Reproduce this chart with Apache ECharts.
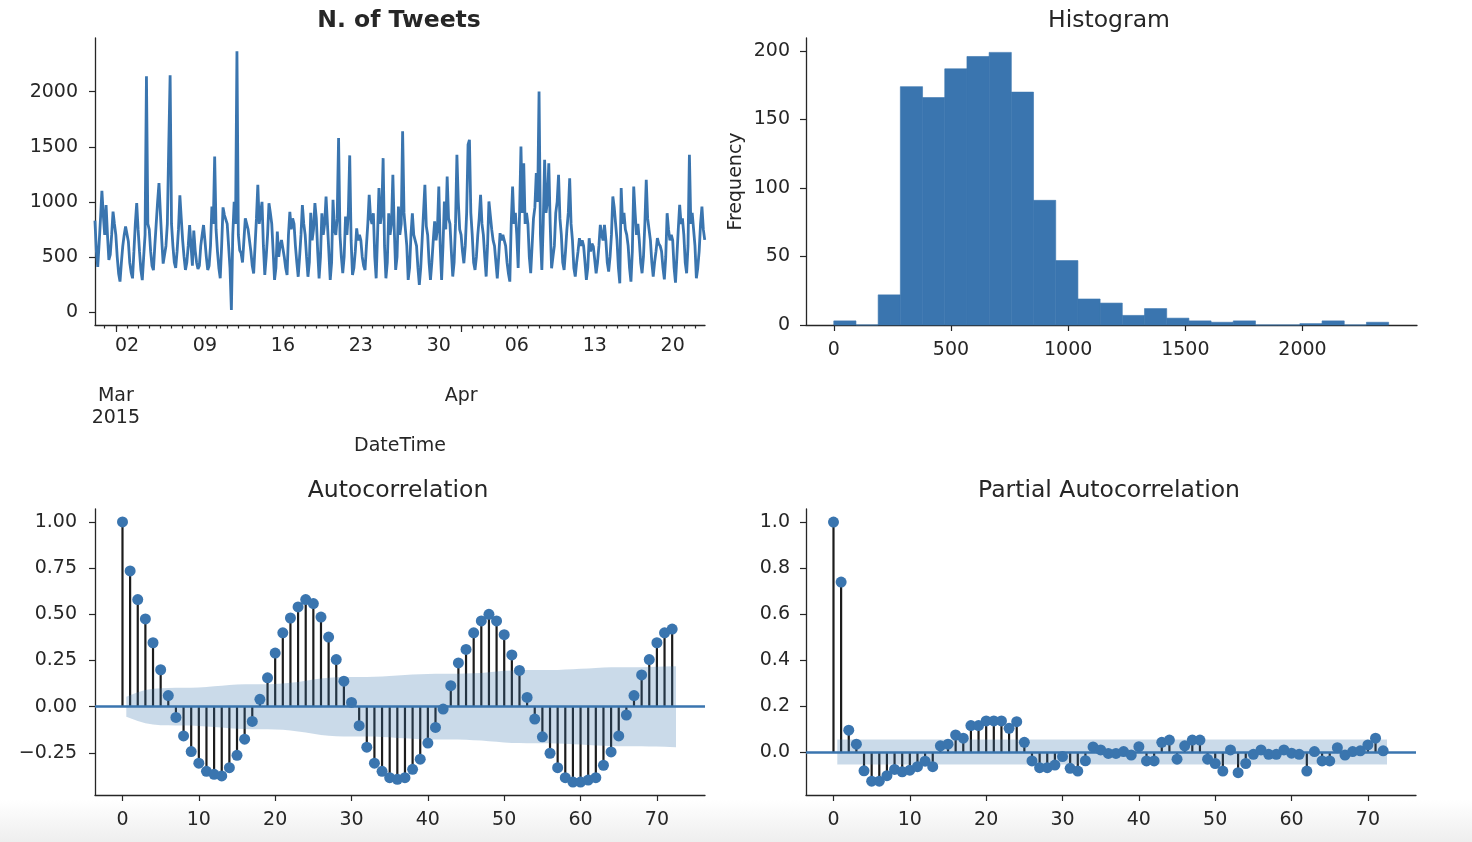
<!DOCTYPE html>
<html>
<head>
<meta charset="UTF-8">
<title>N. of Tweets - diagnostics</title>
<style>
  html, body { margin: 0; padding: 0; background: #fff; }
  #chart { width: 1472px; height: 842px; }
</style>
</head>
<body>
<div id="chart"></div>
<script src="https://cdn.jsdelivr.net/npm/echarts@6/dist/echarts.min.js"></script>
<script>
// tweets per hour, read every 3 hours; first value is 27 Feb 2015 03:00
var tsStart = -2.875;      // in days, relative to 2 Mar 2015 00:00
var tsStepDays = 0.125;    // 3 hours
var tweets = [
  830, 560, 410, 620, 850, 1100, 880,
  700, 970, 700, 473, 520, 700, 912, 800,
  700, 500, 350, 276, 450, 600, 700, 776,
  780, 640, 450, 360, 306, 550, 800, 990,
  750, 550, 380, 290, 500, 700, 2140, 800,
  750, 550, 420, 380, 600, 800, 1000, 1170,
  900, 650, 440, 450, 600, 800, 1500, 2150,
  800, 600, 450, 400, 550, 750, 1060, 850,
  650, 500, 382, 450, 600, 790, 600, 420,
  740, 560, 450, 390, 420, 600, 700, 790,
  650, 500, 382, 420, 600, 957, 800, 1412,
  750, 550, 400, 306, 600, 950, 880, 870,
  800, 600, 400, 19, 700, 1000, 800, 2367,
  700, 560, 534, 450, 650, 850, 800, 750,
  750, 550, 420, 350, 600, 850, 1155, 800,
  900, 1000, 600, 336, 500, 700, 988, 900,
  800, 550, 291, 400, 730, 500, 600, 654,
  654, 500, 400, 337, 700, 910, 750, 850,
  800, 600, 450, 320, 500, 700, 970, 800,
  700, 500, 320, 450, 900, 650, 750, 988,
  850, 550, 306, 500, 897, 700, 800, 1049,
  800, 550, 291, 450, 1019, 750, 700, 850,
  1579, 700, 500, 352, 500, 867, 700, 900,
  1422, 650, 337, 400, 550, 760, 650, 700,
  650, 500, 420, 382, 600, 800, 1064, 850,
  800, 897, 500, 306, 700, 1125, 800, 900,
  1397, 600, 306, 450, 897, 700, 800, 1246,
  750, 382, 500, 958, 700, 800, 1640, 900,
  900, 600, 291, 400, 700, 897, 700, 650,
  600, 400, 246, 400, 650, 900, 1155, 780,
  700, 450, 291, 450, 650, 822, 650, 750,
  1140, 600, 291, 600, 1004, 750, 1231, 850,
  800, 550, 322, 450, 800, 1428, 1000, 750,
  700, 550, 443, 600, 900, 1519, 1564, 900,
  700, 450, 382, 500, 700, 850, 1064, 800,
  700, 500, 322, 600, 1004, 1004, 750, 650,
  600, 450, 306, 500, 716, 650, 700, 650,
  600, 450, 350, 276, 800, 1140, 800, 900,
  700, 400, 900, 1503, 900, 1350, 800, 900,
  800, 500, 352, 600, 850, 950, 1261, 1000,
  2003, 700, 382, 800, 1382, 900, 1000, 1350,
  800, 397, 500, 600, 900, 1000, 1246, 850,
  700, 450, 382, 550, 750, 900, 1215, 800,
  650, 400, 322, 450, 550, 670, 600, 650,
  600, 450, 291, 400, 670, 550, 620, 594,
  594, 352, 450, 600, 791, 700, 650, 791,
  650, 450, 367, 500, 700, 1049, 950, 800,
  650, 400, 261, 1125, 800, 900, 750, 700,
  600, 400, 276, 550, 1140, 900, 700, 800,
  650, 450, 352, 500, 800, 1200, 850, 750,
  650, 450, 322, 450, 550, 670, 620, 600,
  550, 400, 297, 500, 897, 750, 650, 700,
  650, 400, 267, 500, 750, 973, 800, 850,
  700, 450, 352, 600, 1428, 800, 900, 750,
  600, 306, 400, 550, 800, 958, 750, 655
];
var tsDayTicks = [-2, -1, 0, 1, 2, 3, 4, 5, 6, 7, 8, 9, 10, 11, 12, 13, 14, 15, 16, 17, 18, 19, 20,
  21, 22, 23, 24, 25, 26, 27, 28, 29, 30, 31, 32, 33, 34, 35, 36, 37, 38, 39, 40, 41, 42, 43,
  44, 45, 46, 47, 48, 49, 50, 51];
var tsWeekTicks = [0, 7, 14, 21, 28, 35, 42, 49];
var tsMonthTicks = [-1, 30];
var tsMonthLabels = ['Mar\n2015', 'Apr'];
var tsYTicks = [0, 500, 1000, 1500, 2000];

// histogram: 25 bins
var histStart = 0;
var histBinWidth = 94.7;
var histCounts = [3, 0, 22, 174, 166, 187, 196, 199, 170, 91, 47, 19, 16, 7, 12, 5, 3, 2, 3, 0, 0, 1, 3, 0, 2];
var histXTicks = [0, 500, 1000, 1500, 2000];
var histYTicks = [0, 50, 100, 150, 200];

// acf / pacf, index = lag (0..72)
var acfValues = [
  1.0, 0.735, 0.58, 0.475, 0.346, 0.20, 0.06, -0.058, -0.158, -0.243,
  -0.306, -0.35, -0.366, -0.375, -0.33, -0.263, -0.176, -0.08, 0.04, 0.156,
  0.29, 0.40, 0.48, 0.54, 0.58, 0.558, 0.485, 0.377, 0.255, 0.138,
  0.023, -0.103, -0.219, -0.306, -0.35, -0.384, -0.393, -0.384, -0.339, -0.284,
  -0.197, -0.112, -0.013, 0.114, 0.237, 0.31, 0.40, 0.464, 0.50, 0.464,
  0.39, 0.28, 0.196, 0.05, -0.067, -0.163, -0.252, -0.33, -0.384, -0.408,
  -0.408, -0.397, -0.384, -0.317, -0.245, -0.158, -0.045, 0.06, 0.172, 0.255,
  0.346, 0.40, 0.42
];
// half width of the confidence band, lags 1..72
var acfConf = [
  0.054, 0.078, 0.090, 0.097, 0.100, 0.101, 0.102, 0.102, 0.102, 0.104,
  0.107, 0.110, 0.113, 0.117, 0.120, 0.121, 0.122, 0.122, 0.122, 0.123,
  0.125, 0.129, 0.134, 0.140, 0.147, 0.153, 0.157, 0.160, 0.161, 0.161,
  0.161, 0.161, 0.162, 0.164, 0.166, 0.169, 0.171, 0.174, 0.176, 0.177,
  0.178, 0.178, 0.178, 0.178, 0.179, 0.181, 0.183, 0.187, 0.190, 0.194,
  0.196, 0.197, 0.198, 0.198, 0.198, 0.198, 0.199, 0.201, 0.203, 0.205,
  0.207, 0.210, 0.212, 0.213, 0.214, 0.214, 0.214, 0.214, 0.215, 0.216,
  0.217, 0.219
];
var pacfValues = [
  1.0, 0.739, 0.095, 0.034, -0.082, -0.127, -0.127, -0.103, -0.076, -0.086,
  -0.079, -0.064, -0.04, -0.064, 0.027, 0.034, 0.074, 0.06, 0.115, 0.115,
  0.135, 0.135, 0.135, 0.103, 0.132, 0.042, -0.039, -0.068, -0.068, -0.057,
  -0.02, -0.071, -0.083, -0.038, 0.022, 0.009, -0.006, -0.006, 0.002, -0.013,
  0.023, -0.039, -0.039, 0.042, 0.052, -0.031, 0.027, 0.052, 0.052, -0.031,
  -0.05, -0.083, 0.009, -0.09, -0.05, -0.01, 0.009, -0.01, -0.01, 0.009,
  -0.005, -0.01, -0.083, 0.002, -0.039, -0.039, 0.019, -0.013, 0.002, 0.005,
  0.031, 0.06, 0.005
];
var pacfConfLevel = 0.054;
var lagTicks = [0, 10, 20, 30, 40, 50, 60, 70];
var acfYTicks = [-0.25, 0, 0.25, 0.5, 0.75, 1];
var pacfYTicks = [0, 0.2, 0.4, 0.6, 0.8, 1.0];

var BLUE = '#3a75af';
var INK = '#262626';
var FONT = 'DejaVu Sans';
var TICK_FS = 19;

var chart = echarts.init(document.getElementById('chart'));

function dayLabel(v) {
  var d = new Date(2015, 2, 2 + Math.round(v));
  var n = d.getDate();
  return (n < 10 ? '0' : '') + n;
}
function signed(v, digits) {
  return (v < 0 ? '\u2212' : '') + Math.abs(v).toFixed(digits);
}

function baseAxis(gridIndex, min, max, ticks, fmt, margin) {
  return {
    type: 'value', gridIndex: gridIndex, min: min, max: max,
    splitLine: { show: false },
    axisLine: { show: true, onZero: false, lineStyle: { color: INK, width: 1.3 } },
    axisTick: { show: true, customValues: ticks, length: 6, lineStyle: { color: INK, width: 1.2 } },
    axisLabel: {
      customValues: ticks, formatter: fmt, margin: margin,
      color: INK, fontFamily: FONT, fontSize: TICK_FS
    }
  };
}

// confidence band drawn as one polygon through the band points
function bandSeries(xi, yi, xs, halfWidths) {
  return {
    type: 'custom', xAxisIndex: xi, yAxisIndex: yi, silent: true, z: 8,
    data: xs.map(function (x, i) { return [x, halfWidths[i]]; }),
    encode: { x: 0, y: 1 },
    renderItem: function (params, api) {
      if (params.dataIndex !== 0) return null;
      var upper = [], lower = [];
      for (var i = 0; i < xs.length; i++) {
        upper.push(api.coord([xs[i], halfWidths[i]]));
        lower.unshift(api.coord([xs[i], -halfWidths[i]]));
      }
      return { type: 'polygon', shape: { points: upper.concat(lower) },
               style: { fill: 'rgba(58,117,175,0.27)' } };
    }
  };
}

function stemSeries(xi, yi, values) {
  return {
    type: 'custom', xAxisIndex: xi, yAxisIndex: yi,
    data: values.map(function (v, i) { return [i, v]; }),
    encode: { x: 0, y: 1 }, z: 2,
    renderItem: function (params, api) {
      var top = api.coord([api.value(0), api.value(1)]);
      var base = api.coord([api.value(0), 0]);
      return { type: 'line', shape: { x1: base[0], y1: base[1], x2: top[0], y2: top[1] },
               style: { stroke: '#1c1c1c', lineWidth: 2.2 } };
    },
    markLine: {
      silent: true, symbol: 'none', animation: false,
      label: { show: false },
      lineStyle: { type: 'solid', color: BLUE, width: 2.5 },
      data: [{ yAxis: 0 }]
    }
  };
}

function markerSeries(xi, yi, values) {
  return {
    type: 'scatter', xAxisIndex: xi, yAxisIndex: yi,
    data: values.map(function (v, i) { return [i, v]; }),
    symbolSize: 11, itemStyle: { color: BLUE, opacity: 1 }, z: 6
  };
}

var tsData = tweets.map(function (v, i) { return [tsStart + i * tsStepDays, v]; });
var histData = histCounts.map(function (c, i) {
  return [histStart + i * histBinWidth, histStart + (i + 1) * histBinWidth, c];
});
var acfBandX = acfConf.map(function (c, i) { return i + 1; });
acfBandX[0] -= 0.5;
acfBandX[acfBandX.length - 1] += 0.5;
var pacfBand = acfBandX.map(function () { return pacfConfLevel; });

// x axes
var tsDays = baseAxis(0, -2.87, 51.9, tsDayTicks, dayLabel, 12);
tsDays.position = 'bottom';
tsDays.axisTick.length = 3.5;
tsDays.axisLabel.customValues = tsWeekTicks;
tsDays.name = 'DateTime';
tsDays.nameLocation = 'middle';
tsDays.nameGap = 112;
tsDays.nameTextStyle = { color: INK, fontFamily: FONT, fontSize: TICK_FS };

var tsMonths = baseAxis(0, -2.87, 51.9, tsMonthTicks, function (v) {
  return tsMonthLabels[tsMonthTicks.indexOf(Math.round(v))] || '';
}, 60);
tsMonths.position = 'bottom';
tsMonths.axisLine.show = false;
tsMonths.axisTick.length = 7;
tsMonths.axisLabel.lineHeight = 22;

var histX = baseAxis(1, -118.5, 2488.5, histXTicks, function (v) { return String(v); }, 16);
var acfX = baseAxis(2, -3.6, 76.3, lagTicks, function (v) { return String(v); }, 16);
var pacfX = baseAxis(3, -3.6, 76.3, lagTicks, function (v) { return String(v); }, 16);

// y axes
var tsY = baseAxis(0, -118, 2488, tsYTicks, function (v) { return String(v); }, 17);
var histY = baseAxis(1, 0, 209.5, histYTicks, function (v) { return String(v); }, 16);
histY.name = 'Frequency';
histY.nameLocation = 'middle';
histY.nameGap = 60;
histY.nameTextStyle = { color: INK, fontFamily: FONT, fontSize: TICK_FS };
var acfY = baseAxis(2, -0.478, 1.07, acfYTicks, function (v) { return signed(v, 2); }, 18);
var pacfY = baseAxis(3, -0.187, 1.057, pacfYTicks, function (v) { return signed(v, 1); }, 16);

function title(text, x, y, bold) {
  return { text: text, left: x, top: y, textAlign: 'center',
           textStyle: { color: INK, fontFamily: FONT, fontSize: 23.5, fontWeight: bold ? 'bold' : 'normal' } };
}

var option = {
  animation: false,
  backgroundColor: '#ffffff',
  textStyle: { fontFamily: FONT },
  title: [
    title('N. of Tweets', 394, 4, true),
    title('Histogram', 1104, 4, false),
    title('Autocorrelation', 393, 474, false),
    title('Partial Autocorrelation', 1104, 474, false)
  ],
  graphic: [{
    type: 'rect', left: 0, top: 800, z: -10, silent: true,
    shape: { width: 1472, height: 42 },
    style: { fill: new echarts.graphic.LinearGradient(0, 0, 0, 1, [
      { offset: 0, color: '#ffffff' }, { offset: 1, color: '#eeeeee' }]) }
  }],
  grid: [
    { left: 95, top: 38, width: 610, height: 287 },
    { left: 806, top: 38, width: 611, height: 287 },
    { left: 95, top: 509, width: 610, height: 286 },
    { left: 806, top: 509, width: 610, height: 286 }
  ],
  xAxis: [tsDays, tsMonths, histX, acfX, pacfX],
  yAxis: [tsY, histY, acfY, pacfY],
  series: [
    { type: 'line', xAxisIndex: 0, yAxisIndex: 0, data: tsData, showSymbol: false,
      lineStyle: { color: BLUE, width: 2.8 }, itemStyle: { color: BLUE } },
    { type: 'custom', xAxisIndex: 2, yAxisIndex: 1, data: histData,
      encode: { x: [0, 1], y: 2 },
      renderItem: function (params, api) {
        var p0 = api.coord([api.value(0), api.value(2)]);
        var p1 = api.coord([api.value(1), 0]);
        return { type: 'rect', shape: { x: p0[0], y: p0[1], width: p1[0] - p0[0], height: p1[1] - p0[1] },
                 style: { fill: BLUE, stroke: BLUE, lineWidth: 0.6 } };
      } },
    stemSeries(3, 2, acfValues),
    markerSeries(3, 2, acfValues),
    stemSeries(4, 3, pacfValues),
    markerSeries(4, 3, pacfValues),
    bandSeries(3, 2, acfBandX, acfConf),
    bandSeries(4, 3, acfBandX, pacfBand)
  ]
};

chart.setOption(option);
</script>
</body>
</html>
